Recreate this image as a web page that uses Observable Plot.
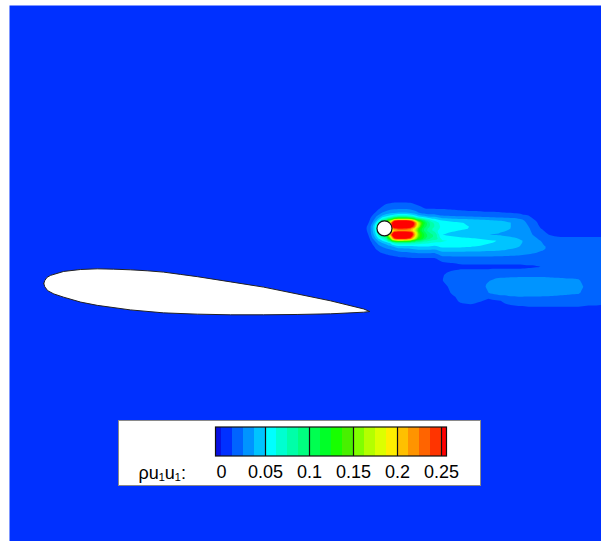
<!DOCTYPE html>
<html><head><meta charset="utf-8">
<script src="https://cdn.jsdelivr.net/npm/d3@7"></script>
<script src="https://cdn.jsdelivr.net/npm/@observablehq/plot@0.6"></script>
<style>
body{margin:0;background:#fff;}
#wrap{position:relative;width:601px;height:541px;overflow:hidden;}
#legend{position:absolute;left:118px;top:420px;width:361px;height:64px;border:1px solid #8a8a8a;background:#fff;}
</style></head><body>
<div id="wrap"><div id="main"></div><div id="legend"></div></div>
<script>
// contour levels of rho*u1*u1
const thresholds = [0.0125,0.025,0.0375,0.05,0.0625,0.075,0.0875,0.1,0.1125,0.125,0.1375,0.15,0.1625,0.175,0.1875,0.2,0.2125,0.225,0.2375,0.25];
// under-range, then bands from 0 upward, last = above 0.25
const bandColors = ["#0810e0","#0030ff","#0064ff","#0094ff","#00c4ff","#00ffff","#00ffd0","#00ffa8","#00ff80","#00ff50","#00ff28","#18ff00","#48f000","#80ff00","#b4ff00","#dcff00","#ffee00","#ffc000","#ff9400","#ff6400","#ff3400","#ff0000"];
const legendTicks = [0,0.05,0.1,0.15,0.2,0.25];
const legendTickLabels = ["0","0.05","0.1","0.15","0.2","0.25"];
const legendUnder = -0.00625, legendOver = 0.25625;
const legendTitle = "\u03c1u\u2081u\u2081:";

// airfoil outline (x/c, y/c), upper surface LE->TE then lower TE->LE
const airfoilX = [0,0.003,0.010,0.021,0.061,0.113,0.164,0.214,0.266,0.317,0.367,0.419,0.471,0.573,0.674,0.777,0.879,0.981,1.000,0.981,0.879,0.777,0.674,0.573,0.471,0.367,0.266,0.164,0.113,0.061,0.031,0.012,0.003,0];
const airfoilY = [0,0.009,0.019,0.025,0.037,0.043,0.045,0.044,0.042,0.039,0.035,0.028,0.021,0.005,-0.011,-0.032,-0.053,-0.078,-0.086,-0.088,-0.093,-0.095,-0.096,-0.096,-0.094,-0.090,-0.081,-0.067,-0.057,-0.042,-0.032,-0.022,-0.010,0];
// cylinder
const cylX = [1.045], cylY = [0.169];

// near-wake samples
const nearX = [1.0,1.0125,1.025,1.0375,1.05,1.0625,1.075,1.0875,1.1,1.1125,1.125,1.1375,1.15,1.1625,1.175,1.1875,1.2];
const nearY = [0.264,0.2515,0.239,0.2265,0.214,0.2015,0.189,0.1765,0.164,0.1515,0.139,0.1265,0.114,0.1015,0.089,0.0765];
const nearV = [
[.005,.005,.005,.005,.005,.005,.005,.005,.005,.005,.005,.005,.005,.005,.005,.005,.005],
[.005,.005,.005,.006,.008,.010,.011,.011,.011,.011,.011,.010,.009,.008,.007,.007,.007],
[.005,.005,.007,.011,.015,.016,.017,.017,.017,.017,.016,.014,.012,.011,.010,.010,.010],
[.005,.007,.012,.017,.021,.024,.025,.026,.026,.026,.025,.022,.017,.014,.013,.013,.013],
[.007,.012,.020,.028,.034,.038,.040,.042,.042,.042,.040,.035,.028,.024,.022,.021,.021],
[.011,.020,.033,.050,.060,.070,.090,.100,.100,.100,.090,.075,.060,.052,.047,.044,.043],
[.014,.030,.060,.100,.120,.200,.300,.320,.320,.320,.300,.240,.170,.130,.100,.080,.070],
[.020,.045,.080,.100,.120,.200,.320,.330,.330,.320,.300,.240,.170,.120,.100,.085,.075],
[.020,.045,.080,.100,.120,.150,.180,.195,.195,.195,.190,.170,.130,.100,.085,.075,.068],
[.018,.040,.065,.100,.120,.220,.320,.330,.330,.320,.300,.220,.150,.120,.100,.090,.085],
[.013,.030,.050,.065,.080,.150,.260,.280,.280,.270,.250,.190,.140,.120,.100,.090,.085],
[.008,.018,.030,.040,.045,.055,.075,.085,.085,.085,.085,.080,.075,.070,.068,.065,.062],
[.005,.012,.020,.026,.030,.034,.040,.045,.045,.045,.046,.048,.050,.050,.050,.050,.048],
[.005,.008,.013,.017,.020,.022,.025,.028,.030,.030,.032,.034,.035,.035,.035,.035,.034],
[.005,.005,.008,.010,.012,.014,.015,.016,.017,.017,.018,.019,.020,.020,.020,.020,.020],
[.005,.005,.005,.006,.007,.008,.009,.010,.010,.011,.011,.011,.011,.011,.011,.011,.011]];

// far-wake samples
const farX = [1.22,1.25,1.28,1.31,1.34,1.37,1.40,1.43,1.46,1.49,1.52,1.55,1.58,1.61,1.64,1.67,1.70,1.73,1.76];
const farY = [0.27,0.25,0.23,0.21,0.19,0.17,0.15,0.13,0.11,0.09,0.07,0.05,0.03,0.01,-0.01,-0.03,-0.05,-0.07,-0.09,-0.11];
const farV = [
[.005,.005,.005,.005,.005,.005,.005,.005,.005,.005,.005,.005,.005,.005,.005,.005,.005,.005,.005],
[.005,.005,.005,.005,.005,.005,.005,.005,.005,.005,.005,.005,.005,.005,.005,.005,.005,.005,.005],
[.012,.011,.010,.009,.009,.009,.008,.008,.007,.006,.005,.005,.005,.005,.005,.005,.005,.005,.005],
[.022,.020,.019,.018,.017,.016,.016,.015,.014,.011,.007,.005,.005,.005,.005,.005,.005,.005,.005],
[.055,.052,.050,.048,.046,.043,.041,.038,.032,.020,.010,.006,.005,.005,.005,.005,.005,.005,.005],
[.060,.056,.053,.050,.047,.044,.041,.038,.034,.025,.013,.009,.007,.007,.007,.007,.007,.007,.007],
[.050,.046,.043,.041,.039,.037,.036,.034,.031,.027,.020,.012,.009,.009,.009,.009,.009,.009,.009],
[.065,.062,.060,.058,.055,.052,.050,.045,.040,.033,.026,.021,.019,.019,.019,.019,.019,.019,.019],
[.050,.050,.050,.049,.048,.046,.044,.040,.037,.032,.028,.024,.022,.022,.022,.022,.022,.022,.022],
[.030,.030,.030,.030,.030,.030,.029,.028,.027,.025,.023,.021,.020,.020,.020,.020,.020,.020,.020],
[.014,.015,.016,.016,.016,.016,.016,.016,.016,.016,.016,.017,.018,.018,.018,.018,.018,.018,.018],
[.006,.008,.010,.010,.010,.010,.010,.010,.010,.011,.012,.014,.016,.017,.017,.017,.017,.017,.017],
[.011,.016,.018,.018,.018,.019,.020,.020,.020,.020,.020,.020,.020,.020,.020,.019,.018,.018,.018],
[.012,.017,.019,.020,.021,.025,.028,.029,.030,.030,.030,.029,.028,.027,.026,.020,.018,.018,.018],
[.008,.015,.018,.020,.022,.028,.032,.034,.035,.033,.032,.031,.030,.029,.028,.022,.018,.017,.017],
[.006,.013,.017,.018,.020,.026,.030,.031,.031,.030,.030,.029,.028,.027,.026,.020,.017,.016,.016],
[.005,.009,.015,.016,.014,.011,.013,.018,.020,.020,.020,.020,.019,.018,.018,.017,.016,.015,.015],
[.005,.006,.010,.011,.009,.007,.008,.011,.012,.013,.013,.013,.013,.013,.013,.012,.012,.011,.011],
[.005,.005,.005,.005,.005,.005,.005,.005,.005,.005,.005,.005,.005,.005,.005,.005,.005,.005,.005],
[.005,.005,.005,.005,.005,.005,.005,.005,.005,.005,.005,.005,.005,.005,.005,.005,.005,.005,.005]];

// free-stream samples bounding the wake region
const bgX = [0.98,0.98,0.98,0.98,1.1,1.1,1.1,1.2,1.2,1.2,1.5,1.5,1.76,1.76];
const bgY = [0.30,0.17,0.0,-0.13,0.30,0.0,-0.13,0.30,0.0,-0.13,0.30,-0.13,0.30,-0.13];
const bgValue = 0.005;

const samples = [];
nearY.forEach((y, j) => nearX.forEach((x, i) => samples.push({x, y, v: nearV[j][i]})));
farY.forEach((y, j) => farX.forEach((x, i) => samples.push({x, y, v: farV[j][i]})));
bgX.forEach((x, i) => samples.push({x, y: bgY[i], v: bgValue}));

const airfoil = airfoilX.map((x, i) => ({x, y: airfoilY[i]}));
const cyl = cylX.map((x, i) => ({x, y: cylY[i]}));

const font = "'Liberation Sans', Arial, sans-serif";

const main = Plot.plot({
  width: 601, height: 541,
  marginLeft: 9, marginTop: 5, marginRight: 0, marginBottom: 0,
  x: {domain: [-0.1052, 1.7107], axis: null},
  y: {domain: [-0.7914, 0.8528], axis: null},
  color: {type: "threshold", domain: thresholds, range: bandColors.slice(1)},
  style: {fontFamily: font},
  marks: [
    Plot.frame({fill: bandColors[1], stroke: "none"}),
    Plot.contour(samples, {x: "x", y: "y", fill: "v", interpolate: "barycentric",
      thresholds, x1: 0.98, x2: 1.76, y1: -0.13, y2: 0.30, stroke: "none"}),
    Plot.line(airfoil, {x: "x", y: "y", fill: "white", stroke: "#222", strokeWidth: 1, curve: "linear"}),
    Plot.dot(cyl, {x: "x", y: "y", r: 7.5, fill: "white", stroke: "#111", strokeWidth: 1.2})
  ]
});
document.getElementById("main").appendChild(main);

const bandLo = [legendUnder, 0, ...thresholds];
const bandHi = [0, ...thresholds, legendOver];
const bands = bandColors.map((c, i) => ({lo: bandLo[i], hi: bandHi[i], c}));
const majors = legendTicks.slice(1);

const legend = Plot.plot({
  width: 361, height: 64,
  marginLeft: 102, marginRight: 39, marginTop: 6, marginBottom: 29,
  x: {domain: [0, 0.25], axis: null},
  y: {domain: [0, 1], axis: null},
  color: {type: "identity"},
  style: {fontFamily: font, fontSize: "18px", background: "white", color: "black"},
  marks: [
    Plot.rect(bands, {x1: "lo", x2: "hi", y1: 0, y2: 1, fill: "c"}),
    Plot.ruleX(majors, {y1: 0, y2: 1, stroke: "#111", strokeWidth: 1.2}),
    Plot.rect([0], {x1: legendUnder, x2: legendOver, y1: 0, y2: 1, fill: "none", stroke: "#111", strokeWidth: 1.2}),
    Plot.axisX({ticks: legendTicks, tickFormat: (d) => legendTickLabels[legendTicks.indexOf(d)], tickSize: 0, tickPadding: 9, fontSize: 18, fill: "black"}),
    Plot.text([legendTitle], {frameAnchor: "bottom-left", dx: -83, dy: 22, textAnchor: "start", lineAnchor: "bottom", fontSize: 18, fill: "black"})
  ]
});
document.getElementById("legend").appendChild(legend);
</script>
</body></html>
